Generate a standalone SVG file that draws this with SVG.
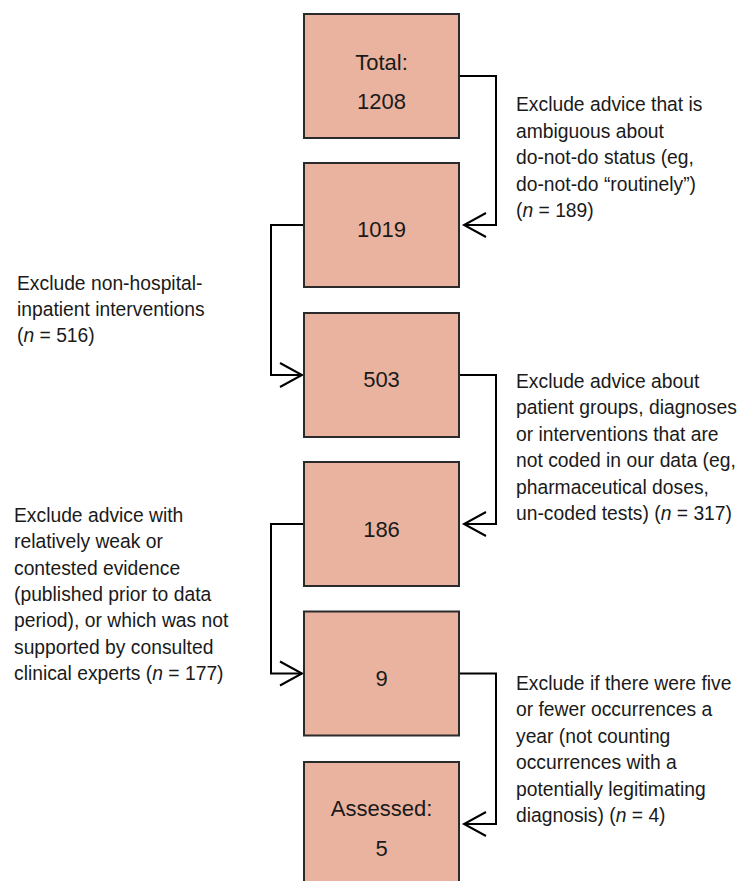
<svg xmlns="http://www.w3.org/2000/svg" width="739" height="881" viewBox="0 0 739 881">
  <style>
    .box rect { fill: #e9b39f; stroke: #2b2b2b; stroke-width: 2; }
    .box text { font-family: "Liberation Sans", Arial, sans-serif; font-size: 22px; fill: #1a1a1a; text-anchor: middle; }
    .conn { fill: none; stroke: #000; stroke-width: 2; stroke-linejoin: miter; }
    .lbl { font-family: "Liberation Sans", Arial, sans-serif; font-size: 19.3px; fill: #1a1a1a; }
    .it { font-style: italic; }
  </style>
  <rect x="0" y="0" width="739" height="881" fill="#ffffff"/>

  <g id="connectors">
    <polyline class="conn" points="459,76 496,76 496,225 464,225"/>
    <polyline class="conn" points="486,213 464,225 486,237"/>
    <polyline class="conn" points="304,225 271,225 271,375 302,375"/>
    <polyline class="conn" points="280,363 302,375 280,387"/>
    <polyline class="conn" points="459,375 496,375 496,524 464,524"/>
    <polyline class="conn" points="486,512 464,524 486,536"/>
    <polyline class="conn" points="304,524 271,524 271,673.5 302,673.5"/>
    <polyline class="conn" points="280,661.5 302,673.5 280,685.5"/>
    <polyline class="conn" points="459,673.5 496,673.5 496,824 464,824"/>
    <polyline class="conn" points="486,812 464,824 486,836"/>
  </g>

  <g id="node-total" class="box">
    <rect x="304" y="14" width="155" height="124"/>
    <text x="381.5" y="70">Total:</text>
    <text x="381.5" y="109">1208</text>
  </g>
  <g id="node-1019" class="box">
    <rect x="304" y="163" width="155" height="124"/>
    <text x="381.5" y="237">1019</text>
  </g>
  <g id="node-503" class="box">
    <rect x="304" y="313" width="155" height="124"/>
    <text x="381.5" y="387">503</text>
  </g>
  <g id="node-186" class="box">
    <rect x="304" y="462" width="155" height="124"/>
    <text x="381.5" y="537">186</text>
  </g>
  <g id="node-9" class="box">
    <rect x="304" y="611.5" width="155" height="124"/>
    <text x="381.5" y="686">9</text>
  </g>
  <g id="node-assessed" class="box">
    <rect x="304" y="762" width="155" height="124"/>
    <text x="381.5" y="816">Assessed:</text>
    <text x="381.5" y="856">5</text>
  </g>

  <g id="label-ambiguous">
    <text class="lbl" x="516" y="111">Exclude advice that is</text>
    <text class="lbl" x="516" y="137.5">ambiguous about</text>
    <text class="lbl" x="516" y="164">do-not-do status (eg,</text>
    <text class="lbl" x="516" y="190.5">do-not-do “routinely”)</text>
    <text class="lbl" x="516" y="217">(<tspan class="it">n</tspan> = 189)</text>
  </g>
  <g id="label-nonhospital">
    <text class="lbl" x="17" y="290">Exclude non-hospital-</text>
    <text class="lbl" x="17" y="316">inpatient interventions</text>
    <text class="lbl" x="17" y="342">(<tspan class="it">n</tspan> = 516)</text>
  </g>
  <g id="label-notcoded">
    <text class="lbl" x="516" y="388">Exclude advice about</text>
    <text class="lbl" x="516" y="414.4">patient groups, diagnoses</text>
    <text class="lbl" x="516" y="440.8">or interventions that are</text>
    <text class="lbl" x="516" y="467.2">not coded in our data (eg,</text>
    <text class="lbl" x="516" y="493.6">pharmaceutical doses,</text>
    <text class="lbl" x="516" y="520">un-coded tests) (<tspan class="it">n</tspan> = 317)</text>
  </g>
  <g id="label-weak">
    <text class="lbl" x="14" y="522">Exclude advice with</text>
    <text class="lbl" x="14" y="548.3">relatively weak or</text>
    <text class="lbl" x="14" y="574.6">contested evidence</text>
    <text class="lbl" x="14" y="601">(published prior to data</text>
    <text class="lbl" x="14" y="627.3">period), or which was not</text>
    <text class="lbl" x="14" y="653.6">supported by consulted</text>
    <text class="lbl" x="14" y="680">clinical experts (<tspan class="it">n</tspan> = 177)</text>
  </g>
  <g id="label-fewer">
    <text class="lbl" x="516" y="690">Exclude if there were five</text>
    <text class="lbl" x="516" y="716.4">or fewer occurrences a</text>
    <text class="lbl" x="516" y="742.8">year (not counting</text>
    <text class="lbl" x="516" y="769.2">occurrences with a</text>
    <text class="lbl" x="516" y="795.6">potentially legitimating</text>
    <text class="lbl" x="516" y="822">diagnosis) (<tspan class="it">n</tspan> = 4)</text>
  </g>
</svg>
